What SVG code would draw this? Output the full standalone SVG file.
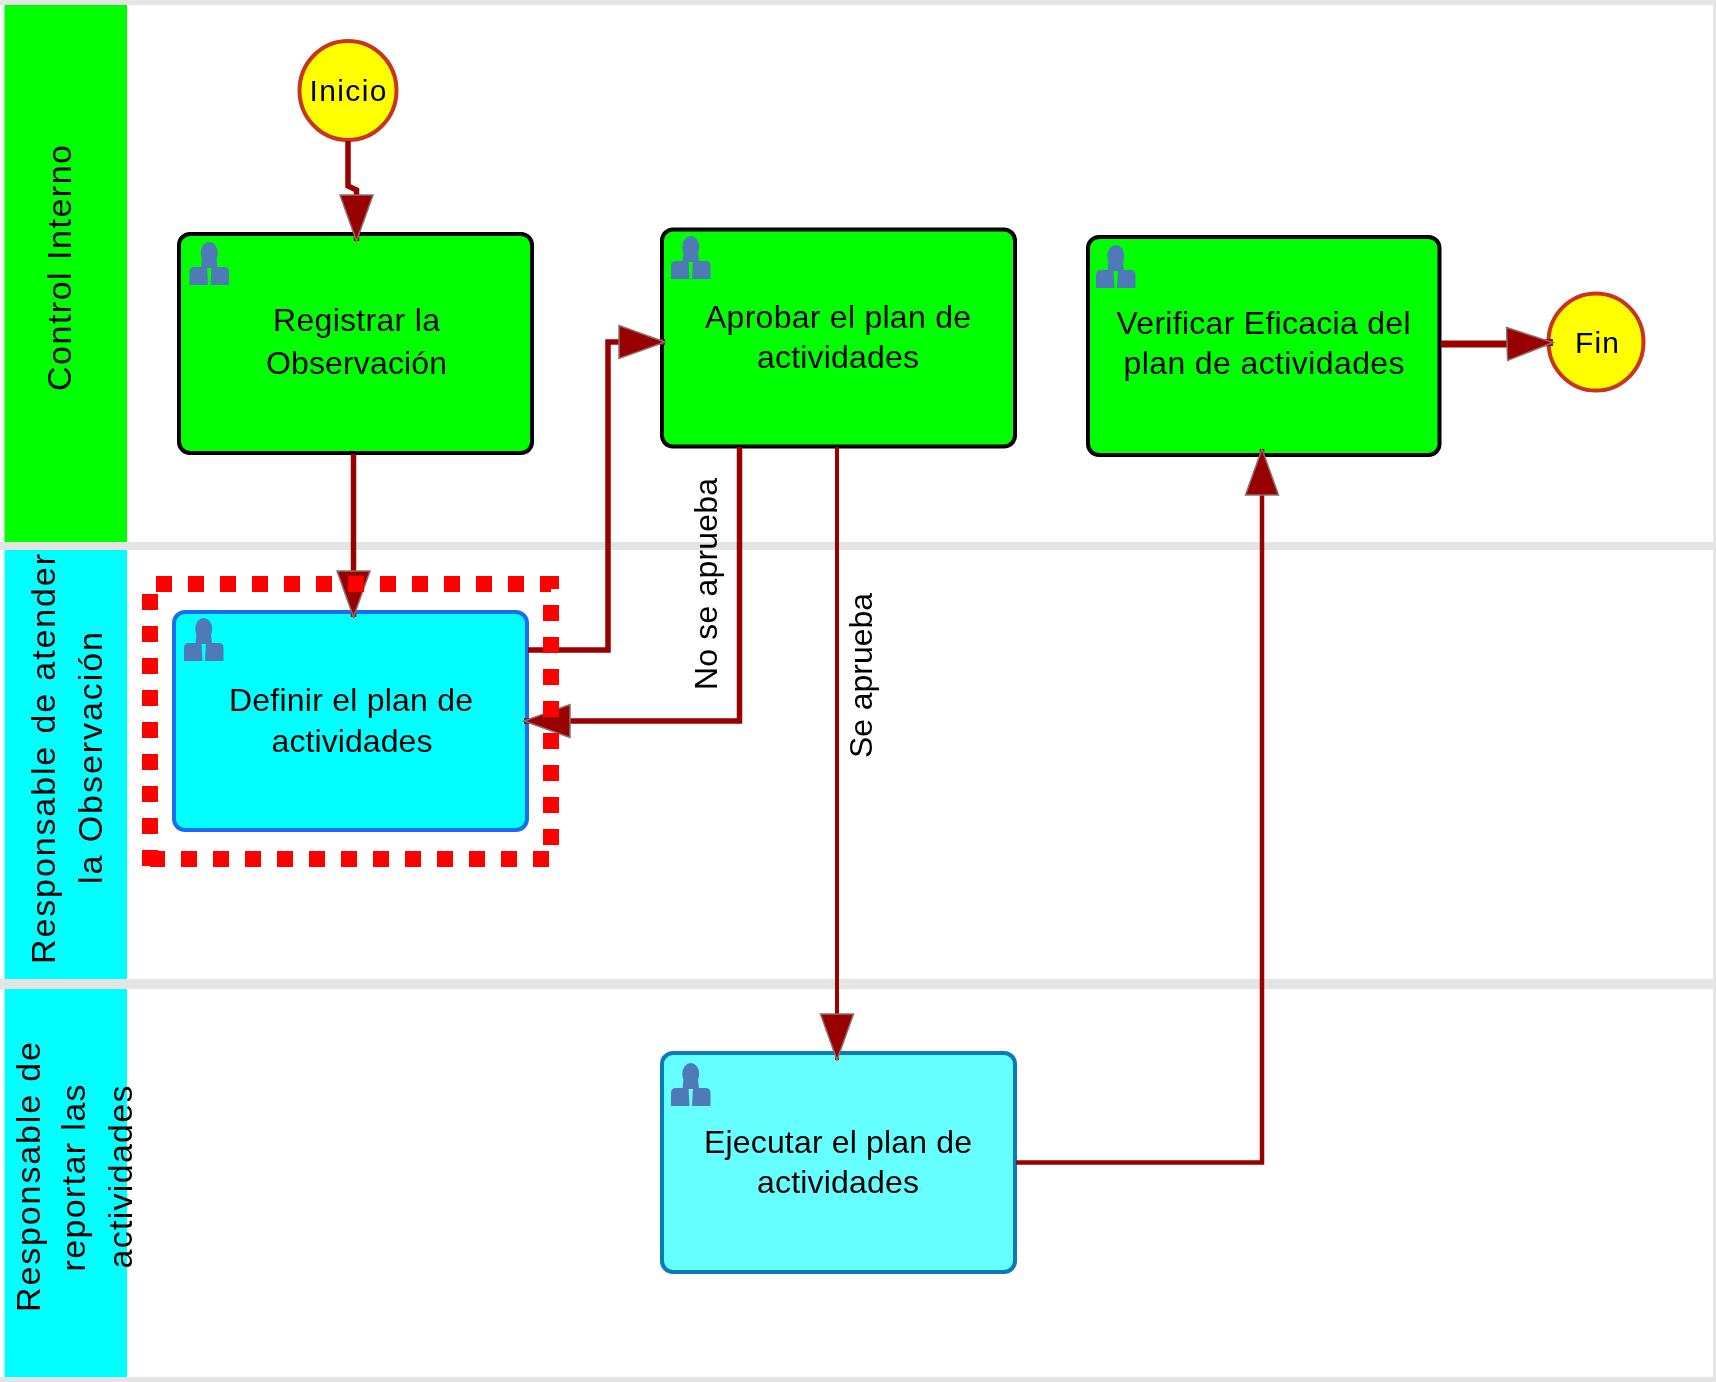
<svg xmlns="http://www.w3.org/2000/svg" xmlns:xlink="http://www.w3.org/1999/xlink" width="1716" height="1382" viewBox="0 0 1716 1382">
<style>
text{font-family:"Liberation Sans",Arial,sans-serif;fill:#000;text-anchor:middle}
.t{font-size:32px}
.l{font-size:34px}
.band{fill:#e4e4e4}
.task{stroke-width:4}
.ev{fill:#ffff00;stroke:#c8341c;stroke-width:4}
.c{fill:none;stroke:#990000;stroke-width:5.500;stroke-linejoin:miter;marker-end:url(#h)}
.n{fill:none;stroke:#990000;stroke-width:5.500;stroke-linejoin:miter}
.d{fill:none;stroke:#ff0000;stroke-width:16;stroke-dasharray:16 16}
</style>
<defs>
<filter id="soft" filterUnits="userSpaceOnUse" x="0" y="0" width="1716" height="1382" color-interpolation-filters="sRGB">
<feGaussianBlur stdDeviation="0.7"/>
</filter>
<marker id="h" markerUnits="userSpaceOnUse" markerWidth="52" markerHeight="40" refX="47" refY="19" orient="auto" viewBox="0 0 52 40">
<path d="M1 2.5 L47 19 L1 35.5Z" fill="#990000" stroke="#8a7070" stroke-width="1.5"/>
</marker>
<g id="p" fill="#4f7ab8">
<ellipse cx="19.750" cy="11" rx="8.500" ry="11"/>
<path d="M12.500 16H27L28 26H11.500Z"/>
<path d="M0 43V30Q0 25 5 25H17.500L18.500 43Z"/>
<path d="M39.500 43V30Q39.500 25 34.500 25H22L21 43Z"/>
</g>
</defs>
<rect width="1716" height="1382" fill="#fff"/>
<g filter="url(#soft)">
<g id="lanes">
<rect class="band" x="0" y="0" width="1716" height="5"/>
<rect class="band" x="0" y="542" width="1716" height="8"/>
<rect class="band" x="0" y="979" width="1716" height="10"/>
<rect class="band" x="0" y="1377" width="1716" height="5"/>
<rect class="band" x="1713" y="0" width="3" height="1382"/>
</g>
<g id="lane-control">
<rect x="4.500" y="5" width="122.500" height="537" fill="#00ff00"/>
<text class="l" transform="translate(71,268) rotate(-90)" textLength="246">Control Interno</text>
</g>
<g id="lane-responsable-atender">
<rect x="4.500" y="550" width="122.500" height="429" fill="#00ffff"/>
<text class="l" transform="translate(55,759) rotate(-90)" textLength="410">Responsable de atender</text>
<text class="l" transform="translate(101.500,758) rotate(-90)" textLength="252">la Observación</text>
</g>
<g id="lane-responsable-reportar">
<rect x="4.500" y="989" width="122.500" height="388" fill="#00ffff"/>
<text class="l" transform="translate(39.500,1177) rotate(-90)" textLength="270">Responsable de</text>
<text class="l" transform="translate(85,1178) rotate(-90)" textLength="187">reportar las</text>
<text class="l" transform="translate(132,1177) rotate(-90)" textLength="183">actividades</text>
</g>
<g id="inicio">
<ellipse class="ev" cx="348" cy="90.500" rx="48.500" ry="49.500"/>
<text x="348" y="101" font-size="30" textLength="77">Inicio</text>
</g>
<g id="registrar">
<rect class="task" x="179" y="234" width="353" height="219" rx="11" fill="#00ff00" stroke="#000"/>
<use xlink:href="#p" href="#p" x="189.500" y="242"/>
<text class="t" x="356.500" y="331" textLength="167">Registrar la</text>
<text class="t" x="356.500" y="374" textLength="181">Observación</text>
</g>
<g id="aprobar">
<rect class="task" x="662" y="229.500" width="353" height="217" rx="11" fill="#00ff00" stroke="#000"/>
<use xlink:href="#p" href="#p" x="671" y="236"/>
<text class="t" x="838" y="328" textLength="266">Aprobar el plan de</text>
<text class="t" x="838" y="368" textLength="162">actividades</text>
</g>
<g id="verificar">
<rect class="task" x="1088" y="237" width="351.500" height="218" rx="11" fill="#00ff00" stroke="#000"/>
<use xlink:href="#p" href="#p" x="1096" y="245"/>
<text class="t" x="1263.500" y="334" textLength="294">Verificar Eficacia del</text>
<text class="t" x="1264" y="374" textLength="281">plan de actividades</text>
</g>
<g id="fin">
<ellipse class="ev" cx="1596" cy="342" rx="47.500" ry="48.500"/>
<text x="1597" y="352.500" font-size="30" textLength="44">Fin</text>
</g>
<g id="definir">
<rect class="task" x="174" y="612" width="353" height="218" rx="11" fill="#00ffff" stroke="#1a6cf0"/>
<use xlink:href="#p" href="#p" x="184" y="618"/>
<text class="t" x="351" y="711" textLength="244">Definir el plan de</text>
<text class="t" x="352" y="751.500" textLength="161">actividades</text>
</g>
<g id="ejecutar">
<rect class="task" x="662" y="1053" width="353" height="219" rx="11" fill="#66ffff" stroke="#0a7ab8"/>
<use xlink:href="#p" href="#p" x="671" y="1063"/>
<text class="t" x="838" y="1153" textLength="268">Ejecutar el plan de</text>
<text class="t" x="838" y="1192.500" textLength="162">actividades</text>
</g>
<g id="connectors">
<path class="c" d="M348 141V186L356.500 190V241"/>
<path class="c" d="M353.500 454V617"/>
<path class="c" d="M528 650H608V342H665"/>
<path class="n" d="M739.500 447V721H570"/>
<path class="c" d="M570 721H524"/>
<path class="c" style="stroke-width:4" d="M837 447V1060"/>
<path class="c" style="stroke-width:4.500" d="M1016 1162.500H1262V449"/>
<path class="c" style="stroke-width:7" d="M1441 344H1508L1553 342.500"/>
<text class="t" transform="translate(716.500,584) rotate(-90)" textLength="212">No se aprueba</text>
<text class="t" transform="translate(872,675.500) rotate(-90)" textLength="165">Se aprueba</text>
</g>
<g id="highlight">
<path class="d" stroke-dashoffset="26" d="M150 584H551V859H150"/>
<path class="d" d="M150 866V594"/>
</g>
</g>
</svg>
